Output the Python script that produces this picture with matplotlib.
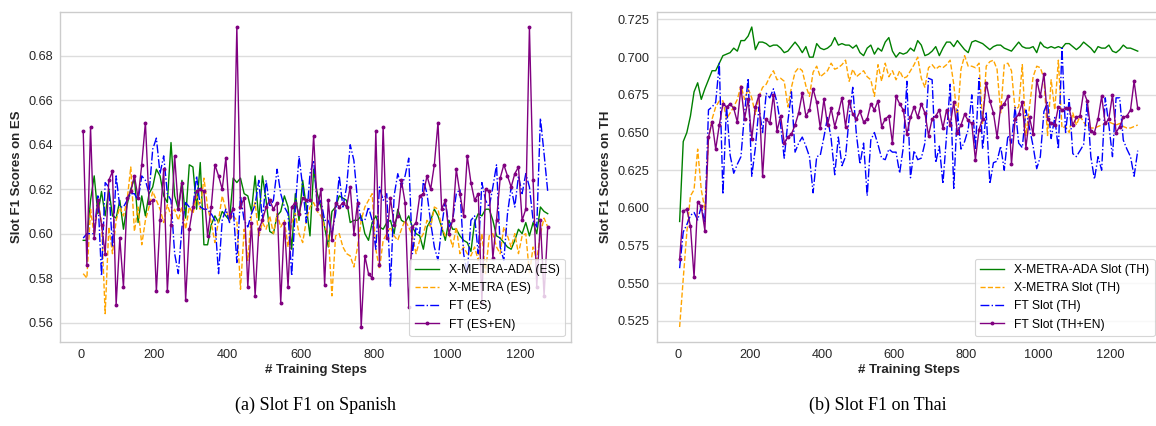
import matplotlib
matplotlib.use("Agg")
import matplotlib.pyplot as plt
from matplotlib.ticker import MultipleLocator

plt.rcParams["font.family"] = ["Liberation Sans", "DejaVu Sans"]

# training steps (evaluation every 10 steps)
steps = list(range(5, 1285, 10))

# Spanish
es_ada = [0.597, 0.597, 0.615, 0.626, 0.609, 0.619, 0.608, 0.620, 0.608, 0.607,
          0.615, 0.602, 0.613, 0.620, 0.625, 0.605, 0.617, 0.608, 0.618, 0.621,
          0.629, 0.626, 0.617, 0.614, 0.641, 0.617, 0.611, 0.624, 0.607, 0.631,
          0.630, 0.611, 0.632, 0.595, 0.595, 0.604, 0.608, 0.605, 0.610, 0.608,
          0.606, 0.625, 0.623, 0.625, 0.618, 0.617, 0.610, 0.626, 0.606, 0.626,
          0.615, 0.601, 0.600, 0.608, 0.610, 0.617, 0.612, 0.593, 0.618, 0.606,
          0.624, 0.612, 0.599, 0.629, 0.618, 0.612, 0.603,
          0.594, 0.610, 0.612, 0.617, 0.616, 0.615, 0.605, 0.606, 0.606, 0.608,
          0.600, 0.597, 0.605, 0.608, 0.603, 0.602, 0.605, 0.606, 0.600, 0.611,
          0.606, 0.605, 0.608, 0.603, 0.600, 0.599, 0.593, 0.603, 0.606, 0.611,
          0.608, 0.603, 0.597, 0.606, 0.602, 0.602, 0.599, 0.597, 0.596, 0.592,
          0.605, 0.609, 0.608, 0.611, 0.611, 0.606, 0.599, 0.598, 0.596, 0.594,
          0.593, 0.597, 0.602, 0.600, 0.605, 0.599, 0.605, 0.600, 0.612, 0.610,
          0.609]
es_metra = [0.582, 0.580, 0.611, 0.599, 0.615, 0.605, 0.564, 0.603, 0.591, 0.606,
            0.612, 0.608, 0.615, 0.630, 0.601, 0.612, 0.595, 0.606, 0.612, 0.619,
            0.615, 0.611, 0.605, 0.613, 0.608, 0.611, 0.606, 0.612, 0.602, 0.612,
            0.609, 0.617, 0.611, 0.625, 0.612, 0.605, 0.596, 0.606, 0.617, 0.611,
            0.606, 0.608, 0.606, 0.575, 0.602, 0.588, 0.609, 0.614, 0.599, 0.605,
            0.602, 0.608, 0.600, 0.609, 0.603, 0.606, 0.594, 0.605, 0.609, 0.600,
            0.596, 0.606, 0.612, 0.614, 0.610, 0.608, 0.603,
            0.600, 0.572, 0.599, 0.600, 0.594, 0.591, 0.590, 0.585, 0.594, 0.606,
            0.612, 0.615, 0.618, 0.593, 0.584, 0.597, 0.600, 0.603, 0.599, 0.597,
            0.602, 0.606, 0.603, 0.599, 0.591, 0.597, 0.600, 0.606, 0.603, 0.612,
            0.611, 0.603, 0.599, 0.600, 0.594, 0.603, 0.591, 0.594, 0.591, 0.590,
            0.594, 0.588, 0.600, 0.582, 0.599, 0.600, 0.594, 0.591, 0.603, 0.599,
            0.594, 0.600, 0.591, 0.599, 0.600, 0.582, 0.594, 0.588, 0.600, 0.607,
            0.603]
es_ft = [0.598, 0.600, 0.600, 0.600, 0.617, 0.581, 0.623, 0.621, 0.594, 0.626,
         0.612, 0.612, 0.615, 0.618, 0.618, 0.615, 0.626, 0.624, 0.618, 0.638,
         0.643, 0.627, 0.635, 0.618, 0.615, 0.591, 0.582, 0.603, 0.614, 0.612,
         0.612, 0.626, 0.612, 0.611, 0.611, 0.609, 0.606, 0.582, 0.606, 0.611,
         0.605, 0.612, 0.587, 0.617, 0.606, 0.603, 0.609, 0.613, 0.624, 0.606,
         0.624, 0.612, 0.615, 0.629, 0.618, 0.612, 0.609, 0.581, 0.612, 0.635,
         0.621, 0.605, 0.627, 0.633, 0.612, 0.615, 0.606,
         0.606, 0.600, 0.609, 0.626, 0.612, 0.621, 0.640, 0.633, 0.615, 0.606,
         0.606, 0.612, 0.606, 0.593, 0.621, 0.615, 0.618, 0.576, 0.617, 0.627,
         0.621, 0.626, 0.634, 0.591, 0.603, 0.600, 0.624, 0.618, 0.605, 0.594,
         0.588, 0.603, 0.615, 0.603, 0.606, 0.618, 0.620, 0.591, 0.582, 0.606,
         0.608, 0.591, 0.623, 0.615, 0.612, 0.621, 0.631, 0.594, 0.588, 0.609,
         0.621, 0.612, 0.626, 0.618, 0.627, 0.621, 0.606, 0.603, 0.652, 0.636,
         0.619]
es_ft_en = [0.646, 0.586, 0.648, 0.598, 0.615, 0.604, 0.591, 0.624, 0.628, 0.568,
            0.598, 0.576, 0.616, 0.619, 0.626, 0.616, 0.631, 0.650, 0.614, 0.615,
            0.574, 0.606, 0.629, 0.574, 0.604, 0.635, 0.611, 0.623, 0.570, 0.602,
            0.612, 0.619, 0.620, 0.619, 0.599, 0.612, 0.631, 0.626, 0.620, 0.634,
            0.608, 0.611, 0.693, 0.612, 0.616, 0.576, 0.605, 0.572, 0.602, 0.606,
            0.612, 0.615, 0.611, 0.614, 0.569, 0.605, 0.576, 0.612, 0.614, 0.609,
            0.616, 0.615, 0.615, 0.644, 0.611, 0.620, 0.577,
            0.615, 0.597, 0.614, 0.612, 0.614, 0.612, 0.621, 0.600, 0.614, 0.558,
            0.590, 0.582, 0.580, 0.646, 0.586, 0.648, 0.598, 0.616, 0.604, 0.608,
            0.624, 0.614, 0.567, 0.603, 0.605, 0.617, 0.618, 0.626, 0.620, 0.631,
            0.650, 0.611, 0.615, 0.600, 0.606, 0.629, 0.618, 0.608, 0.635, 0.623,
            0.615, 0.618, 0.569, 0.620, 0.619, 0.589, 0.606, 0.625, 0.631, 0.626,
            0.621, 0.627, 0.630, 0.606, 0.611, 0.693, 0.624, 0.576, 0.606, 0.572,
            0.603]

# Thai
th_ada = [0.591, 0.644, 0.650, 0.661, 0.677, 0.683, 0.672, 0.679, 0.685, 0.691,
          0.691, 0.696, 0.701, 0.702, 0.703, 0.706, 0.704, 0.711, 0.711, 0.714,
          0.720, 0.705, 0.710, 0.710, 0.709, 0.707, 0.708, 0.708, 0.706, 0.703,
          0.704, 0.707, 0.710, 0.707, 0.703, 0.707, 0.700, 0.700, 0.709, 0.706,
          0.705, 0.706, 0.708, 0.713, 0.708, 0.709, 0.708, 0.708, 0.706, 0.708,
          0.703, 0.701, 0.706, 0.708, 0.702, 0.706, 0.704, 0.710, 0.713, 0.704,
          0.700, 0.703, 0.702, 0.703, 0.706,
          0.704, 0.711, 0.708, 0.701, 0.702, 0.704, 0.707, 0.701, 0.706, 0.710,
          0.710, 0.707, 0.711, 0.708, 0.705, 0.703, 0.710, 0.711, 0.710, 0.709,
          0.707, 0.705, 0.707, 0.708, 0.708, 0.706, 0.705, 0.704, 0.707, 0.710,
          0.707, 0.706, 0.706, 0.707, 0.703, 0.710, 0.707, 0.706, 0.707, 0.706,
          0.707, 0.706, 0.709, 0.709, 0.707, 0.705, 0.707, 0.710, 0.708, 0.706,
          0.703, 0.707, 0.706, 0.706, 0.708, 0.704, 0.703, 0.705, 0.708, 0.706,
          0.706, 0.705, 0.704]
th_metra = [0.521, 0.553, 0.584, 0.608, 0.612, 0.639, 0.612, 0.599, 0.645, 0.659,
            0.667, 0.671, 0.671, 0.659, 0.663, 0.667, 0.672, 0.681, 0.672, 0.679,
            0.673, 0.662, 0.674, 0.680, 0.682, 0.687, 0.691, 0.685, 0.686, 0.684,
            0.667, 0.680, 0.690, 0.693, 0.691, 0.681, 0.674, 0.690, 0.694, 0.687,
            0.689, 0.691, 0.696, 0.692, 0.693, 0.695, 0.698, 0.684, 0.692, 0.687,
            0.689, 0.691, 0.687, 0.685, 0.674, 0.695, 0.684, 0.696, 0.687, 0.691,
            0.685, 0.691, 0.686, 0.687, 0.691,
            0.695, 0.700, 0.686, 0.680, 0.693, 0.695, 0.692, 0.694, 0.693, 0.695,
            0.698, 0.682, 0.659, 0.692, 0.701, 0.694, 0.694, 0.693, 0.696, 0.656,
            0.694, 0.697, 0.698, 0.692, 0.663, 0.695, 0.696, 0.691, 0.665, 0.667,
            0.695, 0.648, 0.667, 0.687, 0.694, 0.693, 0.686, 0.648, 0.685, 0.665,
            0.698, 0.653, 0.654, 0.650, 0.663, 0.655, 0.661, 0.657, 0.654, 0.653,
            0.653, 0.654, 0.655, 0.656, 0.657, 0.656, 0.655, 0.656, 0.654, 0.653,
            0.653, 0.654, 0.655]
th_ft = [0.560, 0.584, 0.589, 0.595, 0.597, 0.592, 0.601, 0.590, 0.665, 0.667,
         0.670, 0.696, 0.609, 0.668, 0.635, 0.623, 0.629, 0.634, 0.663, 0.686,
         0.621, 0.640, 0.667, 0.650, 0.676, 0.673, 0.679, 0.670, 0.655, 0.633,
         0.657, 0.677, 0.637, 0.643, 0.647, 0.641, 0.634, 0.610, 0.634, 0.635,
         0.647, 0.660, 0.646, 0.622, 0.647, 0.628, 0.634, 0.660, 0.680, 0.649,
         0.629, 0.643, 0.608, 0.645, 0.650, 0.642, 0.633, 0.632, 0.639, 0.637,
         0.637, 0.623, 0.640, 0.684, 0.620,
         0.638, 0.632, 0.633, 0.643, 0.686, 0.685, 0.630, 0.641, 0.616, 0.648,
         0.682, 0.613, 0.665, 0.639, 0.644, 0.652, 0.675, 0.639, 0.686, 0.639,
         0.663, 0.616, 0.630, 0.631, 0.641, 0.625, 0.648, 0.643, 0.667, 0.643,
         0.640, 0.665, 0.653, 0.641, 0.626, 0.634, 0.664, 0.670, 0.646, 0.660,
         0.639, 0.706, 0.650, 0.672, 0.636, 0.634, 0.638, 0.642, 0.670, 0.634,
         0.619, 0.634, 0.625, 0.673, 0.655, 0.634, 0.673, 0.673, 0.645, 0.639,
         0.634, 0.621, 0.638]
th_ft_en = [0.566, 0.598, 0.599, 0.588, 0.554, 0.604, 0.601, 0.585, 0.647, 0.657,
            0.639, 0.655, 0.669, 0.667, 0.669, 0.666, 0.657, 0.680, 0.659, 0.672,
            0.646, 0.667, 0.675, 0.621, 0.659, 0.656, 0.675, 0.651, 0.661, 0.643,
            0.647, 0.649, 0.655, 0.663, 0.676, 0.661, 0.665, 0.679, 0.670, 0.653,
            0.672, 0.655, 0.666, 0.654, 0.663, 0.673, 0.654, 0.671, 0.662, 0.659,
            0.664, 0.657, 0.659, 0.669, 0.665, 0.671, 0.654, 0.659, 0.661, 0.643,
            0.674, 0.669, 0.665, 0.649, 0.660,
            0.667, 0.660, 0.669, 0.663, 0.648, 0.659, 0.661, 0.665, 0.653, 0.665,
            0.655, 0.670, 0.650, 0.655, 0.662, 0.658, 0.656, 0.632, 0.652, 0.659,
            0.683, 0.671, 0.663, 0.647, 0.667, 0.669, 0.674, 0.629, 0.659, 0.662,
            0.670, 0.640, 0.660, 0.649, 0.685, 0.674, 0.689, 0.659, 0.656, 0.655,
            0.667, 0.665, 0.666, 0.666, 0.655, 0.660, 0.661, 0.677, 0.671, 0.651,
            0.650, 0.659, 0.674, 0.656, 0.659, 0.675, 0.650, 0.654, 0.660, 0.661,
            0.665, 0.684, 0.666]

es_labels = ["X-METRA-ADA (ES)", "X-METRA (ES)", "FT (ES)", "FT (ES+EN)"]
th_labels = ["X-METRA-ADA Slot (TH)", "X-METRA Slot (TH)", "FT Slot (TH)", "FT Slot (TH+EN)"]


def draw(ax, series, labels, ylabel, yticks_step):
    ada, metra, ft, ft_en = series
    ax.plot(steps, ada, color="green", linestyle="-", linewidth=1.0, label=labels[0])
    ax.plot(steps, metra, color="orange", linestyle="--", linewidth=1.0, label=labels[1])
    ax.plot(steps, ft, color="blue", linestyle="-.", linewidth=1.0, label=labels[2])
    ax.plot(steps, ft_en, color="purple", linestyle="-", linewidth=1.0,
            marker="o", markersize=1.8, label=labels[3])
    ax.set_xlabel("# Training Steps", fontsize=9.5, fontweight="bold", labelpad=2, color="#262626")
    ax.set_ylabel(ylabel, fontsize=9.5, fontweight="bold", labelpad=4, color="#262626")
    ax.xaxis.set_major_locator(MultipleLocator(200))
    ax.yaxis.set_major_locator(MultipleLocator(yticks_step))
    ax.tick_params(axis="both", length=0, labelsize=9.2, labelcolor="#262626", pad=5)
    ax.grid(axis="y", color="#dddddd", linewidth=1.0)
    ax.grid(axis="x", visible=False)
    ax.set_axisbelow(True)
    for sp in ax.spines.values():
        sp.set_color("#cccccc")
        sp.set_linewidth(1.0)
    leg = ax.legend(loc="lower right", fontsize=8.7, framealpha=0.8,
                    edgecolor="#cccccc", borderpad=0.45, labelspacing=0.5,
                    handletextpad=0.8)
    leg.get_frame().set_linewidth(0.8)


fig = plt.figure(figsize=(11.56, 4.26), dpi=100)
ax1 = fig.add_axes([0.0519, 0.1972, 0.4420, 0.7746])
ax2 = fig.add_axes([0.5681, 0.1972, 0.4359, 0.7746])

draw(ax1, (es_ada, es_metra, es_ft, es_ft_en), es_labels, "Slot F1 Scores on ES", 0.02)
draw(ax2, (th_ada, th_metra, th_ft, th_ft_en), th_labels, "Slot F1 Scores on TH", 0.025)
ax1.yaxis.set_major_formatter(plt.FormatStrFormatter("%.2f"))
ax2.yaxis.set_major_formatter(plt.FormatStrFormatter("%.3f"))

fig.text(0.273, 0.049, "(a) Slot F1 on Spanish", ha="center", va="center",
         fontsize=13, family="Liberation Serif")
fig.text(0.759, 0.049, "(b) Slot F1 on Thai", ha="center", va="center",
         fontsize=13, family="Liberation Serif")

fig.savefig("out.png", dpi=100, facecolor="white")
